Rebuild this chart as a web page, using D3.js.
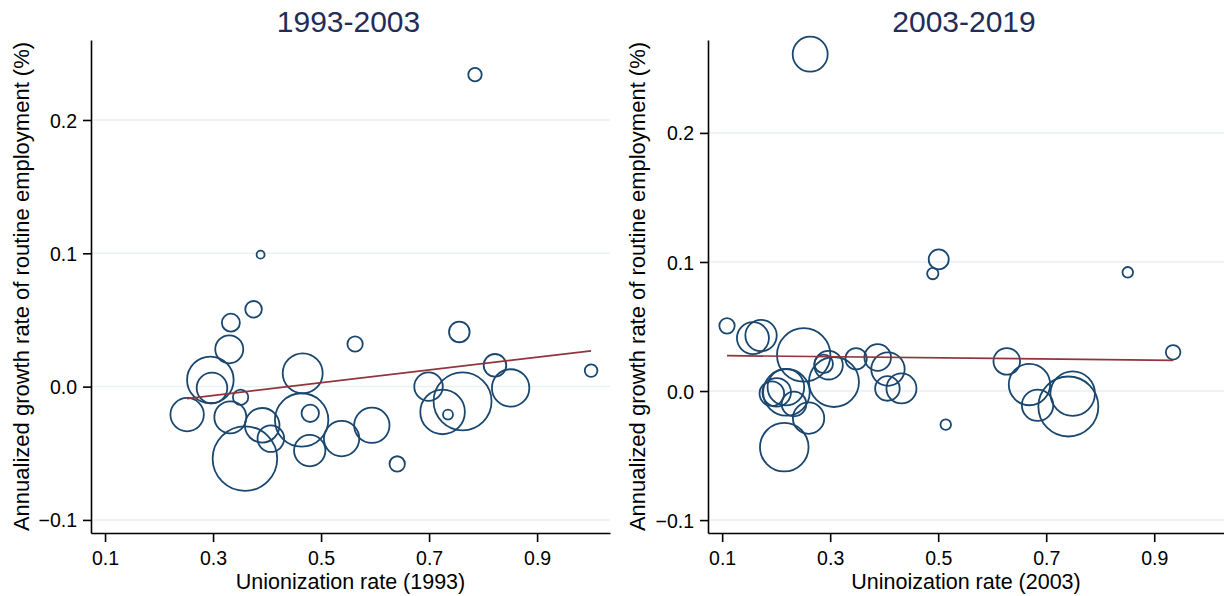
<!DOCTYPE html>
<html>
<head>
<meta charset="utf-8">
<script src="https://cdn.jsdelivr.net/npm/d3@7"></script>
<style>
  html, body { margin: 0; padding: 0; background: #fff; }
  svg { display: block; font-family: "Liberation Sans", Arial, Helvetica, sans-serif; }
</style>
</head>
<body>
<svg id="chart" width="1224" height="596"></svg>
<script>
// ---------- Data: 1993-2003 panel ----------
const union1993 = [0.388,0.375,0.333,0.330,0.295,0.298,0.351,0.252,0.332,0.391,0.407,0.359,0.466,0.464,0.480,0.479,0.538,0.563,0.594,0.641,0.756,0.699,0.725,0.762,0.735,0.822,0.851,1.000,0.785];
const growth1993 = [0.099,0.058,0.048,0.028,0.005,-0.001,-0.008,-0.021,-0.023,-0.029,-0.039,-0.054,0.010,-0.025,-0.020,-0.048,-0.039,0.032,-0.029,-0.058,0.041,0.000,-0.019,-0.011,-0.021,0.016,-0.001,0.012,0.234];
const weight1993 = [16,69,81,196,543,234,59,279,256,299,177,1043,400,713,76,246,313,59,313,59,106,204,497,841,25,128,350,40,45];
const fitRange1993 = [0.252, 1.000];
const fitCoef1993 = [-0.021, 0.0478];   // intercept, slope

// ---------- Data: 2003-2019 panel ----------
const union2003 = [0.109,0.157,0.172,0.251,0.288,0.297,0.307,0.348,0.388,0.407,0.406,0.432,0.501,0.490,0.514,0.192,0.201,0.219,0.218,0.233,0.260,0.215,0.263,0.851,0.935,0.627,0.669,0.684,0.749,0.741];
const growth2003 = [0.0505,0.041,0.043,0.028,0.021,0.020,0.007,0.025,0.026,0.017,0.002,0.002,0.102,0.091,-0.026,-0.002,-0.001,-0.001,0.003,-0.010,-0.021,-0.0435,0.261,0.092,0.030,0.023,0.005,-0.011,-0.002,-0.012];
const weight2003 = [59,256,246,713,86,204,625,114,177,279,151,225,100,32,28,151,204,543,335,151,246,590,306,28,53,177,428,246,497,900];
const fitRange2003 = [0.109, 0.935];
const fitCoef2003 = [0.0279, -0.00436];

// ---------- Labels / ticks ----------
const panelTitles = ["1993-2003", "2003-2019"];
const xTitles = ["Unionization rate (1993)", "Uninoization rate (2003)"];
const yTitle = "Annualized growth rate of routine employment (%)";
const xTicks = [0.1, 0.3, 0.5, 0.7, 0.9];
const yTicks = [-0.1, 0.0, 0.1, 0.2];

// ---------- Styles ----------
const navy = "#1a476f";
const maroon = "#90353b";
const titleColor = "#1f2d57";
const gridColor = "#e9f1f3";

const svg = d3.select("#chart");
const rScale = d3.scaleSqrt().domain([0, 1100]).range([0, Math.sqrt(1100)]);

const panels = [
  { x: union1993, y: growth1993, w: weight1993, fitR: fitRange1993, fitC: fitCoef1993,
    xDom: [0.074, 1.035], xRange: [91, 610], yDom: [-0.1098, 0.26], yRange: [533, 40],
    title: panelTitles[0], xTitle: xTitles[0], yTitleX: 29 },
  { x: union2003, y: growth2003, w: weight2003, fitR: fitRange2003, fitC: fitCoef2003,
    xDom: [0.0738, 1.0292], xRange: [708, 1224], yDom: [-0.110, 0.272], yRange: [533, 40],
    title: panelTitles[1], xTitle: xTitles[1], yTitleX: 645 }
];

panels.forEach(p => {
  const xs = d3.scaleLinear().domain(p.xDom).range(p.xRange);
  const ys = d3.scaleLinear().domain(p.yDom).range(p.yRange);
  const g = svg.append("g");

  // gridlines
  g.append("g").selectAll("line").data(yTicks).join("line")
    .attr("x1", p.xRange[0]).attr("x2", p.xRange[1])
    .attr("y1", d => ys(d)).attr("y2", d => ys(d))
    .attr("stroke", gridColor).attr("stroke-width", 1.5);

  // circles
  const pts = p.x.map((v, i) => ({ x: v, y: p.y[i], w: p.w[i] }));
  g.append("g").selectAll("circle").data(pts).join("circle")
    .attr("cx", d => xs(d.x)).attr("cy", d => ys(d.y)).attr("r", d => rScale(d.w))
    .attr("fill", "none").attr("stroke", navy).attr("stroke-width", 1.8);

  // fit line
  const fitPts = p.fitR.map(v => [v, p.fitC[0] + p.fitC[1] * v]);
  g.append("path")
    .attr("d", d3.line().x(d => xs(d[0])).y(d => ys(d[1]))(fitPts))
    .attr("fill", "none").attr("stroke", maroon).attr("stroke-width", 1.7);

  // axes
  const ax = g.append("g").attr("transform", `translate(0,${p.yRange[0]})`)
    .call(d3.axisBottom(xs).tickValues(xTicks).tickFormat(d3.format(".1f"))
      .tickSize(9).tickSizeOuter(0).tickPadding(9));
  const ay = g.append("g").attr("transform", `translate(${p.xRange[0]},0)`)
    .call(d3.axisLeft(ys).tickValues(yTicks).tickFormat(d3.format(".1f"))
      .tickSize(8).tickSizeOuter(0).tickPadding(6));
  [ax, ay].forEach(a => {
    a.select(".domain").attr("stroke", "#000").attr("stroke-width", 1.6);
    a.selectAll(".tick line").attr("stroke", "#000").attr("stroke-width", 1.6);
    a.selectAll(".tick text").attr("fill", "#000").style("font-size", "19.5px")
      .style("font-family", "'Liberation Sans', Arial, sans-serif");
  });
  ay.selectAll(".tick text").attr("dy", "0.36em");

  // titles
  const cx = (p.xRange[0] + p.xRange[1]) / 2;
  g.append("text").attr("x", cx - 2).attr("y", 32).attr("text-anchor", "middle")
    .attr("fill", titleColor).style("font-size", "30px").text(p.title);
  g.append("text").attr("x", cx).attr("y", 589).attr("text-anchor", "middle")
    .attr("fill", "#000").style("font-size", "21.5px").text(p.xTitle);
  g.append("text").attr("transform", `translate(${p.yTitleX},${(p.yRange[0] + p.yRange[1]) / 2}) rotate(-90)`)
    .attr("text-anchor", "middle").attr("fill", "#000").style("font-size", "22px").text(yTitle);
});
</script>
</body>
</html>
